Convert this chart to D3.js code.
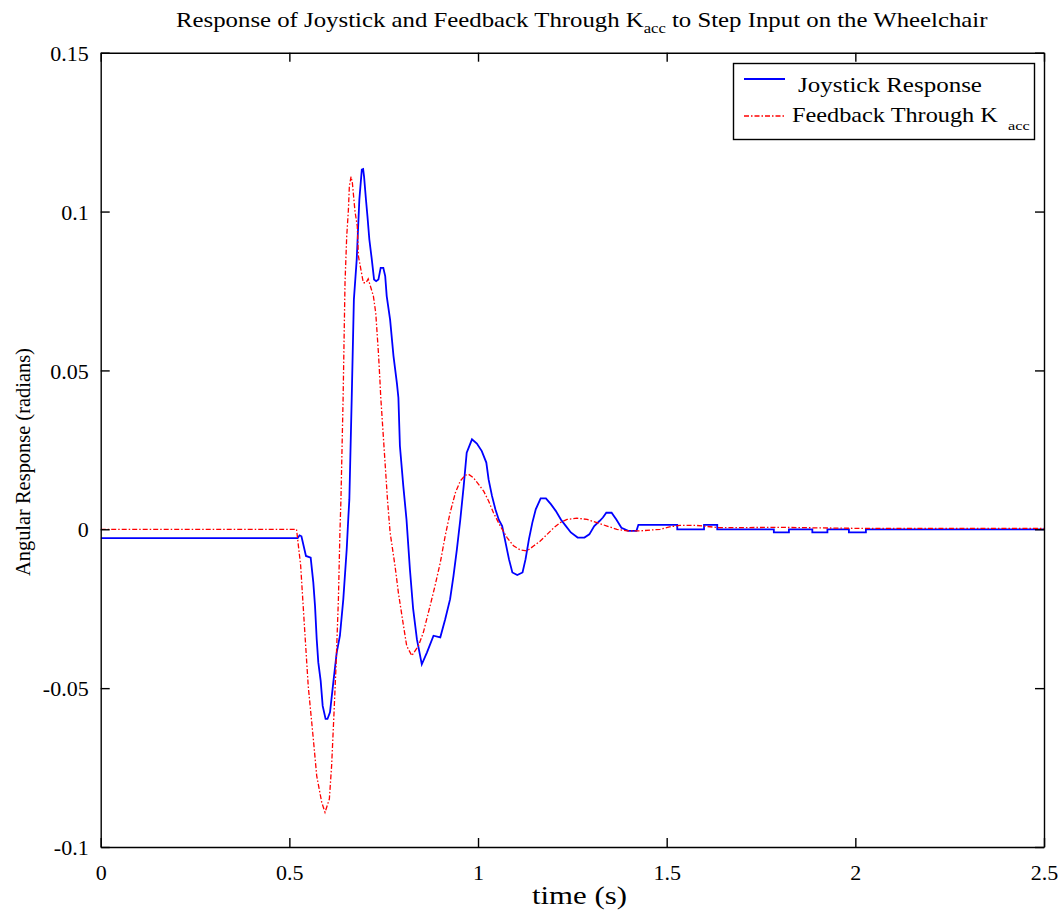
<!DOCTYPE html>
<html>
    <head>
        <style>
            body { margin: 0; background: #fff; }
            svg { background: #fff; }
            text { font-family: "Liberation Serif", "Times New Roman", serif; fill: #000; }
        </style>
    </head>
    <body>
        <div id="chart"></div>

        <script src="https://cdnjs.cloudflare.com/ajax/libs/d3/7.8.5/d3.min.js"></script>

    <script>
        // values
        var joyTime = [0, 0.522, 0.527, 0.532, 0.544, 0.5565, 0.5635, 0.568, 0.5725, 0.5767, 0.583, 0.5883, 0.596, 0.601,
            0.6077, 0.6165, 0.6255, 0.634, 0.643, 0.652, 0.6565, 0.659, 0.6653, 0.671, 0.6785, 0.6855, 0.692, 0.6955,
            0.698, 0.703, 0.707, 0.712, 0.718, 0.7245, 0.730, 0.736, 0.742, 0.749, 0.754, 0.758, 0.767, 0.776, 0.785,
            0.789, 0.793, 0.802, 0.8105, 0.8195, 0.828, 0.838, 0.851, 0.8645, 0.882, 0.900, 0.913, 0.926, 0.935,
            0.944, 0.953, 0.962, 0.970, 0.984, 0.997, 1.010, 1.022, 1.028, 1.037, 1.046, 1.055, 1.064, 1.073,
            1.082, 1.091, 1.104, 1.118, 1.126, 1.135, 1.144, 1.153, 1.166, 1.180, 1.193, 1.206, 1.220, 1.233,
            1.246, 1.264, 1.282, 1.295, 1.308, 1.322, 1.331, 1.340, 1.354, 1.367, 1.380, 1.398, 1.42, 1.425,
            1.528, 1.528, 1.599, 1.599, 1.634, 1.634, 1.784, 1.784, 1.824, 1.824, 1.886, 1.886, 1.926, 1.926,
            1.983, 1.983, 2.028, 2.028, 2.5];
        var joyValue = [-0.0028, -0.0028, -0.0019, -0.0022, -0.0084, -0.0089, -0.0168, -0.0241, -0.0346, -0.0419, -0.0477, -0.0556, -0.0597, -0.0597,
            -0.0576, -0.0482, -0.0388, -0.0335, -0.022, -0.0063, 0.0042, 0.0094, 0.0414, 0.0723, 0.0849, 0.1038, 0.1132, 0.1134,
            0.111, 0.1038, 0.0985, 0.0912, 0.0854, 0.0786, 0.0781, 0.0786, 0.0823, 0.0823, 0.0797, 0.0734, 0.066, 0.0545, 0.046,
            0.0414, 0.0262, 0.0136, 0.003, -0.0126, -0.025, -0.0346, -0.0425, -0.0388, -0.0335, -0.034, -0.0283, -0.022, -0.0147,
            -0.0063, 0.003, 0.0136, 0.0241, 0.0283, 0.027, 0.0246, 0.021, 0.0157, 0.0105, 0.0063, 0.003, 0.001, -0.0042,
            -0.0094, -0.0136, -0.0144, -0.0136, -0.0094, -0.0031, 0.0021, 0.0063, 0.0097, 0.0097, 0.0079, 0.0058, 0.003, 0.001,
            -0.001, -0.0026, -0.0026, -0.0016, 0.001, 0.0026, 0.0037, 0.0052, 0.0052, 0.003, 0.0005, -0.0005, -0.0005, 0.0014,
            0.0014, 0, 0, 0.0014, 0.0014, 0, 0, -0.001, -0.001, 0, 0, -0.001, -0.001, 0,
            0, -0.001, -0.001, 0, 0];

        var fbTime = [0, 0.519, 0.530, 0.541, 0.550, 0.5635, 0.5725, 0.5857, 0.5945, 0.606, 0.612, 0.618, 0.6237, 0.630,
            0.634, 0.6367, 0.6425, 0.6475, 0.652, 0.6565, 0.659, 0.6635, 0.667, 0.674, 0.680, 0.683, 0.696, 0.703,
            0.709, 0.7227, 0.729, 0.736, 0.740, 0.742, 0.760, 0.767, 0.780, 0.789, 0.802, 0.811, 0.8245, 0.842,
            0.855, 0.873, 0.886, 0.900, 0.913, 0.926, 0.940, 0.953, 0.966, 0.975, 0.988, 1.001, 1.015, 1.028,
            1.041, 1.059, 1.077, 1.094, 1.112, 1.130, 1.148, 1.165, 1.183, 1.201, 1.218, 1.236, 1.262, 1.289,
            1.315, 1.342, 1.368, 1.395, 1.430, 1.483, 1.51, 1.535, 1.58, 1.64, 1.80, 2.0, 2.5];
        var fbValue = [0, 0, -0.0115, -0.0325, -0.0493, -0.066, -0.0776, -0.0859, -0.0891, -0.0849, -0.0744, -0.0587, -0.043, -0.022,
            -0.001, 0.0094, 0.0415, 0.0776, 0.0922, 0.1006, 0.108, 0.111, 0.109, 0.100, 0.0954, 0.086, 0.0776, 0.0776,
            0.0788, 0.0734, 0.068, 0.0556, 0.047, 0.042, 0.0094, -0.001, -0.0115, -0.020, -0.030, -0.0367, -0.0398, -0.0367,
            -0.0325, -0.0241, -0.0178, -0.0105, -0.0021, 0.0052, 0.0115, 0.0152, 0.017, 0.0173, 0.0162, 0.0142, 0.012, 0.0089,
            0.0052, 0.001, -0.0026, -0.0052, -0.0065, -0.0068, -0.0052, -0.0037, -0.0016, 0.0005, 0.0021, 0.0031, 0.0035, 0.0031,
            0.0021, 0.001, 0, -0.0005, -0.0005, 0, 0.0008, 0.0012, 0.0012, 0.0005, 0.0006, 0.0003, 0.0003];

        var xTicks = [0, 0.5, 1, 1.5, 2, 2.5];
        var xTickLabels = ["0", "0.5", "1", "1.5", "2", "2.5"];
        var yTicks = [0.15, 0.1, 0.05, 0, -0.05, -0.1];
        var yTickLabels = ["0.15", "0.1", "0.05", "0", "-0.05", "-0.1"];

        (function() {
            var width = 1061,
                height = 911;
            var left = 100.7, right = 1044, top = 52.7, bottom = 847;

            var svg = d3.select("#chart")
                .append("svg")
                .attr("width", width)
                .attr("height", height);

            var x = d3.scaleLinear().domain([0, 2.5]).range([left, right]);
            var y = d3.scaleLinear().domain([-0.1, 0.15]).range([bottom, top]);

            // squeeze / stretch a text so it spans x0..x1
            function fit(sel, x0, x1) {
                var bb = sel.node().getBBox();
                var k = (x1 - x0) / bb.width;
                sel.attr("transform", "translate(" + x0 + ",0) scale(" + k + ",1) translate(" + (-bb.x) + ",0)");
            }

            var joy = joyTime.map(function(t, i) { return [t, joyValue[i]]; });
            var fb = fbTime.map(function(t, i) { return [t, fbValue[i]]; });

            var line = d3.line()
                .x(function(d) { return x(d[0]); })
                .y(function(d) { return y(d[1]); });

            svg.append("clipPath").attr("id", "clip")
                .append("rect").attr("x", left).attr("y", top)
                .attr("width", right - left).attr("height", bottom - top);

            var plot = svg.append("g").attr("clip-path", "url(#clip)");

            plot.append("path")
                .datum(joy)
                .attr("d", line)
                .attr("fill", "none")
                .attr("stroke", "#0000ff")
                .attr("stroke-width", 1.8);

            plot.append("path")
                .datum(fb)
                .attr("d", line)
                .attr("fill", "none")
                .attr("stroke", "#ff0000")
                .attr("stroke-width", 1.3)
                .attr("stroke-dasharray", "5,2,1.5,2");

            // axes, ticks inward on all four sides
            var axB = svg.append("g").attr("transform", "translate(0," + bottom + ")")
                .call(d3.axisBottom(x).tickValues(xTicks).tickSizeInner(-9).tickSizeOuter(0).tickFormat(function(d, i) { return xTickLabels[i]; }));
            var axT = svg.append("g").attr("transform", "translate(0," + top + ")")
                .call(d3.axisTop(x).tickValues(xTicks).tickSizeInner(-9).tickSizeOuter(0).tickFormat(""));
            var axL = svg.append("g").attr("transform", "translate(" + left + ",0)")
                .call(d3.axisLeft(y).tickValues(yTicks).tickSizeInner(-9).tickSizeOuter(0).tickFormat(function(d, i) { return yTickLabels[i]; }));
            var axR = svg.append("g").attr("transform", "translate(" + right + ",0)")
                .call(d3.axisRight(y).tickValues(yTicks).tickSizeInner(-9).tickSizeOuter(0).tickFormat(""));

            [axB, axT, axL, axR].forEach(function(a) {
                a.selectAll(".domain").attr("stroke", "#000").attr("stroke-width", 1.4);
                a.selectAll(".tick line").attr("stroke", "#000").attr("stroke-width", 1.4);
                a.selectAll("text")
                    .style("font-family", "'Liberation Serif', serif")
                    .style("font-size", "22px")
                    .attr("fill", "#000");
            });
            axB.selectAll(".tick text").attr("y", 17).attr("dy", "0.71em");
            axL.selectAll(".tick text").attr("x", -12).attr("dy", "0.35em");

            // title
            var title = svg.append("text")
                .attr("x", 0).attr("y", 27)
                .style("font-size", "21px");
            title.append("tspan").text("Response of Joystick and Feedback Through K");
            title.append("tspan").attr("dy", 6).style("font-size", "14px").text("acc");
            title.append("tspan").attr("dy", -6).text(" to Step Input on the Wheelchair");
            fit(title, 176, 988);

            // x label
            var xl = svg.append("text").attr("x", 0).attr("y", 904)
                .style("font-size", "25px").text("time (s)");
            fit(xl, 532, 627);

            // y label
            var yg = svg.append("g").attr("transform", "translate(30,576) rotate(-90)");
            var yl = yg.append("text").attr("x", 0).attr("y", 0)
                .style("font-size", "22px").text("Angular Response (radians)");
            fit(yl, 0, 228);

            // legend
            var lg = svg.append("g");
            lg.append("rect")
                .attr("x", 733.5).attr("y", 63.5)
                .attr("width", 301).attr("height", 76)
                .attr("fill", "#fff")
                .attr("stroke", "#000").attr("stroke-width", 1.4);
            lg.append("line")
                .attr("x1", 744).attr("x2", 785).attr("y1", 79).attr("y2", 79)
                .attr("stroke", "#0000ff").attr("stroke-width", 1.8);
            lg.append("line")
                .attr("x1", 744).attr("x2", 785).attr("y1", 116).attr("y2", 116)
                .attr("stroke", "#ff0000").attr("stroke-width", 1.3)
                .attr("stroke-dasharray", "5,2,1.5,2");
            var l1 = lg.append("text").attr("x", 0).attr("y", 92)
                .style("font-size", "21px").text("Joystick Response");
            fit(l1, 798, 982);
            var l2 = lg.append("text").attr("x", 0).attr("y", 122)
                .style("font-size", "21px").text("Feedback Through K");
            fit(l2, 792, 998);
            var l3 = lg.append("text").attr("x", 0).attr("y", 130)
                .style("font-size", "13px").text("acc");
            fit(l3, 1008, 1030);
        })();
    </script>
    </body>
</html>
